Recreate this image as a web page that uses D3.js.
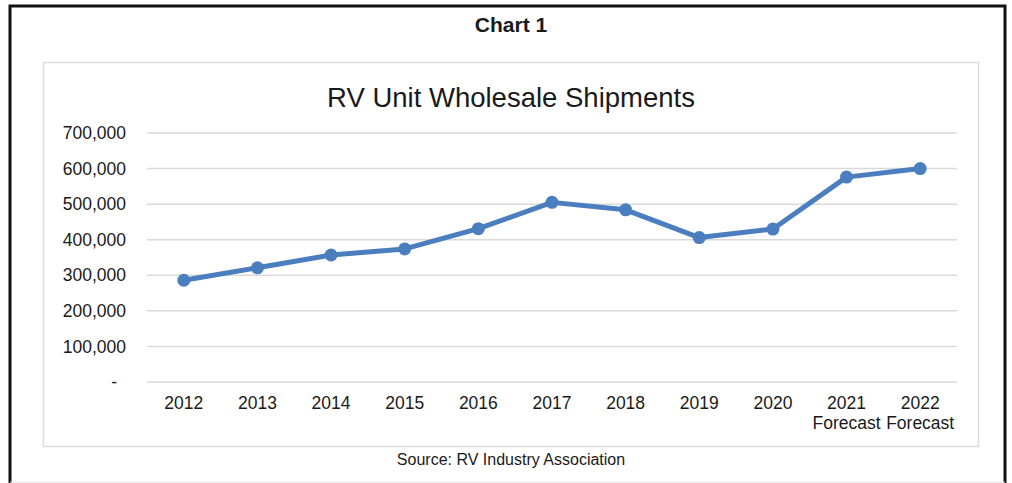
<!DOCTYPE html>
<html>
<head>
<meta charset="utf-8">
<script src="https://cdnjs.cloudflare.com/ajax/libs/d3/7.8.5/d3.min.js"></script>
<style>
  body { margin: 0; background: #fff; }
  text { font-family: "Liberation Sans", Arial, sans-serif; fill: #1a1a1a; }
</style>
</head>
<body>
<script>
var years = ["2012", "2013", "2014", "2015", "2016", "2017", "2018", "2019", "2020", "2021", "2022"];
var subLabels = ["", "", "", "", "", "", "", "", "", "Forecast", "Forecast"];
var shipments = [286000, 321000, 357000, 374000, 431000, 505000, 484000, 406000, 430000, 576000, 600000];
var yTicks = [0, 100000, 200000, 300000, 400000, 500000, 600000, 700000];

function init(){
    var w = 1012;
    var h = 483;
    var left = 147, right = 957, top = 133, bottom = 382;
    var blue = "#4a7ebf";

    var svg = d3.select("body")
                .append("svg")
                .attr("width", w)
                .attr("height", h);

    // outer frame
    svg.append("path")
       .attr("d", "M10,483 V6 H1005 V483")
       .attr("fill", "none")
       .attr("stroke", "#111")
       .attr("stroke-width", 3);
    svg.append("line")
       .attr("x1", 10).attr("x2", 1005)
       .attr("y1", 482).attr("y2", 482)
       .attr("stroke", "#e4e4e4").attr("stroke-width", 1);

    svg.append("text")
       .attr("x", 511).attr("y", 32)
       .attr("text-anchor", "middle")
       .style("font-weight", "bold")
       .style("font-size", "21px")
       .text("Chart 1");

    // inner chart box
    svg.append("rect")
       .attr("x", 43.5).attr("y", 62.5)
       .attr("width", 935).attr("height", 384)
       .attr("fill", "#fff")
       .attr("stroke", "#d6dde6")
       .attr("stroke-width", 1.5);

    svg.append("text")
       .attr("x", 511).attr("y", 107)
       .attr("text-anchor", "middle")
       .style("font-size", "27.5px")
       .text("RV Unit Wholesale Shipments");

    var xScale = d3.scalePoint()
                   .domain(years)
                   .range([left, right])
                   .padding(0.5);

    var yScale = d3.scaleLinear()
                   .domain([0, 700000])
                   .range([bottom, top]);

    // gridlines
    svg.append("g")
       .selectAll("line")
       .data(yTicks)
       .enter()
       .append("line")
       .attr("x1", left).attr("x2", right)
       .attr("y1", function(d) { return yScale(d); })
       .attr("y2", function(d) { return yScale(d); })
       .attr("stroke", "#d9d9d9")
       .attr("stroke-width", 1.5);

    // y labels
    var fmt = d3.format(",");
    svg.append("g")
       .selectAll("text")
       .data(yTicks)
       .enter()
       .append("text")
       .attr("x", function(d) { return d === 0 ? 117 : 126; })
       .attr("y", function(d) { return yScale(d); })
       .attr("dy", "0.35em")
       .attr("text-anchor", "end")
       .style("font-size", "17.5px")
       .text(function(d) { return d === 0 ? "-" : fmt(d); });

    // x labels
    var xl = svg.append("g")
                .selectAll("text")
                .data(years)
                .enter()
                .append("text")
                .attr("x", function(d) { return xScale(d); })
                .attr("y", 409)
                .attr("text-anchor", "middle")
                .style("font-size", "17.5px");
    xl.append("tspan").text(function(d) { return d; });
    xl.append("tspan")
      .attr("x", function(d) { return xScale(d); })
      .attr("dy", 20)
      .text(function(d, i) { return subLabels[i]; });

    // line
    var line = d3.line()
                 .x(function(d, i) { return xScale(years[i]); })
                 .y(function(d) { return yScale(d); });

    svg.append("path")
       .datum(shipments)
       .attr("d", line)
       .attr("fill", "none")
       .attr("stroke", blue)
       .attr("stroke-width", 5)
       .attr("stroke-linejoin", "round");

    svg.append("g")
       .selectAll("circle")
       .data(shipments)
       .enter()
       .append("circle")
       .attr("cx", function(d, i) { return xScale(years[i]); })
       .attr("cy", function(d) { return yScale(d); })
       .attr("r", 6.5)
       .attr("fill", blue);

    svg.append("text")
       .attr("x", 511).attr("y", 465)
       .attr("text-anchor", "middle")
       .style("font-size", "16px")
       .text("Source: RV Industry Association");
}
window.onload = init;
</script>
</body>
</html>
